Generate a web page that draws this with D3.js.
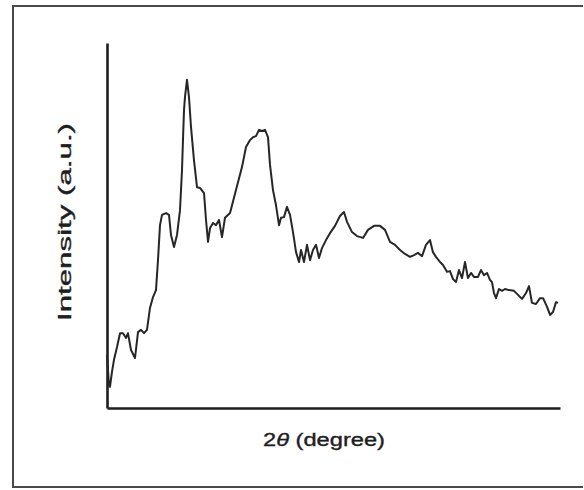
<!DOCTYPE html>
<html>
<head>
<meta charset="utf-8">
<script src="https://cdn.jsdelivr.net/npm/d3@7"></script>
<style>
  body { margin: 0; background: #fff; }
  .label { font-family: "Liberation Sans", Arial, sans-serif; fill: #1e1e1e; stroke: #1e1e1e; stroke-width: 0.35; }
</style>
</head>
<body>
<script>
// XRD pattern, values (no tick labels, arbitrary units)
const twoTheta = [
  10.0, 10.31, 10.46, 10.77, 11.08, 11.55, 12.01, 12.47, 12.94, 13.24,
  13.71, 14.33, 14.79, 15.25, 15.72, 16.18, 16.64, 17.11, 17.57, 17.88,
  18.19, 18.5, 19.12, 19.58, 19.89, 20.35, 20.82, 21.28, 21.59, 21.74,
  21.9, 22.05, 22.36, 22.67, 22.98, 23.44, 23.91, 24.37, 24.99, 25.3,
  25.61, 25.92, 26.38, 26.84, 27.31, 27.77, 28.23, 29.01, 29.93, 30.86,
  31.48, 32.1, 32.56, 33.02, 33.49, 33.95, 34.41, 34.88, 35.19, 35.65,
  36.11, 36.58, 36.89, 37.35, 37.81, 38.28, 38.74, 39.21, 39.67, 39.98,
  40.44, 40.91, 41.37, 41.83, 42.3, 42.76, 43.22, 43.84, 44.46, 45.23,
  46.0, 46.62, 47.09, 47.86, 48.63, 49.56, 50.33, 51.26, 52.19, 52.96,
  53.73, 54.5, 55.28, 56.05, 56.82, 57.44, 58.06, 58.68, 59.29, 59.91,
  60.37, 60.84, 61.46, 61.92, 62.54, 63.0, 63.47, 63.93, 64.39, 64.86,
  65.32, 65.78, 66.25, 66.71, 67.33, 67.79, 68.26, 68.72, 69.18, 69.49,
  69.8, 70.11, 70.57, 71.04, 71.5, 72.12, 72.89, 73.51, 74.13, 74.75,
  75.21, 75.67, 76.29, 76.91, 77.38, 78.0, 78.46, 78.92, 79.38, 79.69
]
const intensity = [
  145, 63, 58, 99, 132, 167, 205, 205, 192, 205,
  159, 137, 208, 214, 205, 214, 274, 304, 323, 405,
  501, 529, 534, 529, 474, 441, 474, 542, 652, 734,
  816, 852, 899, 852, 770, 679, 605, 603, 589, 515,
  455, 493, 507, 501, 515, 468, 521, 534, 597, 660,
  715, 734, 742, 745, 762, 759, 762, 742, 666, 597,
  556, 501, 521, 523, 551, 529, 482, 427, 400, 433,
  400, 447, 405, 433, 447, 411, 438, 460, 479, 499,
  526, 537, 510, 482, 471, 466, 488, 499, 499, 488,
  455, 447, 433, 422, 414, 419, 425, 416, 447, 460,
  427, 414, 400, 392, 373, 375, 353, 345, 378, 356,
  400, 356, 370, 359, 359, 378, 364, 370, 351, 345,
  315, 301, 326, 321, 326, 323, 321, 310, 299, 315,
  334, 288, 285, 301, 301, 277, 255, 263, 290, 288
]
const xLabel = '(degree)'
const yLabel = 'Intensity (a.u.)'

const width = 584,
  height = 490,
  margin = { top: 43, right: 24, bottom: 82, left: 107 }

const svg = d3
  .select('body')
  .append('svg')
  .attr('width', width)
  .attr('height', height)

// scanned frame around the figure
svg
  .append('path')
  .attr('d', 'M583,6H13V487H583')
  .attr('fill', 'none')
  .attr('stroke', '#4a4a4a')
  .attr('stroke-width', 2)

const x = d3
  .scaleLinear()
  .domain([10, 80])
  .range([margin.left, width - margin.right])

const y = d3
  .scaleLinear()
  .domain([0, 1000])
  .range([height - margin.bottom, margin.top])

// axes without ticks, just the lines
svg
  .append('g')
  .attr('transform', `translate(0,${height - margin.bottom})`)
  .call(d3.axisBottom(x).ticks(0).tickSizeOuter(0))
svg
  .append('g')
  .attr('transform', `translate(${margin.left},0)`)
  .call(d3.axisLeft(y).ticks(0).tickSizeOuter(0))

svg.selectAll('.domain').attr('stroke', '#1e1e1e').attr('stroke-width', 2.6)

const points = twoTheta.map((t, i) => [t, intensity[i]])

const line = d3
  .line()
  .x((d) => x(d[0]))
  .y((d) => y(d[1]))

svg
  .append('path')
  .datum(points)
  .attr('d', line)
  .attr('fill', 'none')
  .attr('stroke', '#262626')
  .attr('stroke-width', 2)
  .attr('stroke-linejoin', 'round')

// axis titles
const xt = svg
  .append('text')
  .classed('label', true)
  .attr('x', 324)
  .attr('y', 446)
  .attr('text-anchor', 'middle')
  .attr('font-size', 18)
  .attr('textLength', 122)
  .attr('lengthAdjust', 'spacingAndGlyphs')
xt.append('tspan').text('2')
xt.append('tspan').attr('font-style', 'italic').text('θ')
xt.append('tspan').text(' ' + xLabel)

svg
  .append('text')
  .classed('label', true)
  .attr('transform', 'translate(71,222) rotate(-90)')
  .attr('text-anchor', 'middle')
  .attr('font-size', 18)
  .attr('textLength', 198)
  .attr('lengthAdjust', 'spacingAndGlyphs')
  .text(yLabel)
</script>
</body>
</html>
